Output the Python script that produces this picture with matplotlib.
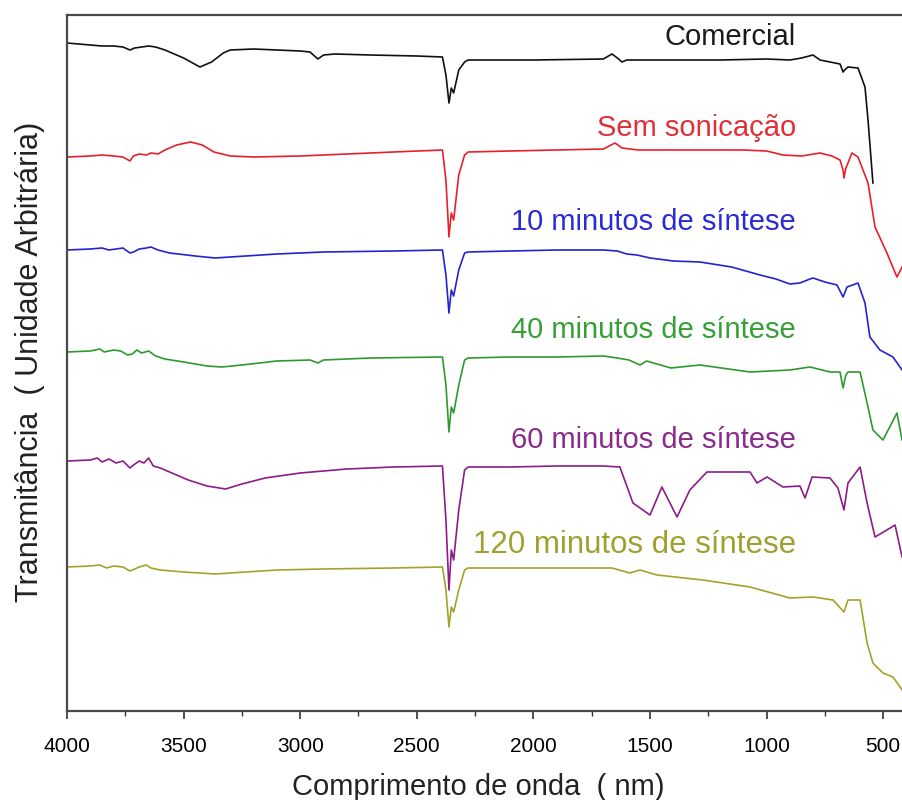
import matplotlib
matplotlib.use('Agg')
import matplotlib.pyplot as plt
import numpy as np
from matplotlib.ticker import MultipleLocator

plt.rcParams['font.family'] = ['Liberation Sans', 'DejaVu Sans']

# wavenumber points (cm-1) and transmittance (arbitrary units)
wn_comercial = [4000, 3900, 3850, 3800, 3760, 3730, 3710, 3680, 3650, 3620, 3580, 3500, 3430, 3380, 3330, 3300,
                3200, 3000, 2958, 2924, 2900, 2851, 2700, 2500, 2390, 2375, 2362, 2352, 2342, 2320, 2295, 2280,
                2200, 2000, 1700, 1663, 1640, 1620, 1600, 1400, 1200, 1000, 900, 850, 801, 771, 728, 685,
                672, 665, 651, 608, 578, 565, 544]
t_comercial = [668, 666, 665, 665, 664, 661, 663, 664, 665, 664, 661, 653, 644, 649, 658, 661,
               662, 660, 659, 652, 656, 657, 656, 655, 654, 636, 608, 623, 618, 641, 649, 651,
               651, 651, 652, 657, 653, 649, 651, 651, 651, 652, 651, 653, 656, 651, 649, 647,
               639, 641, 644, 643, 624, 591, 528]

wn_sem = [4000, 3900, 3850, 3800, 3760, 3730, 3715, 3690, 3660, 3640, 3610, 3580, 3530, 3470, 3420, 3370,
          3300, 3200, 3000, 2800, 2600, 2390, 2375, 2362, 2352, 2342, 2320, 2295, 2280, 2100, 1900, 1700,
          1650, 1620, 1550, 1300, 1100, 1000, 930, 850, 771, 720, 685, 672, 668, 660, 651, 634,
          608, 565, 535, 484, 441, 419]
t_sem = [554, 555, 556, 555, 554, 550, 555, 557, 556, 558, 557, 561, 566, 569, 566, 559,
         555, 554, 555, 557, 559, 561, 531, 474, 498, 491, 536, 556, 559, 560, 561, 562,
         568, 563, 561, 561, 561, 560, 556, 555, 558, 555, 551, 541, 533, 543, 548, 558,
         554, 528, 484, 458, 434, 444]

wn_10 = [4000, 3900, 3850, 3820, 3790, 3760, 3730, 3715, 3690, 3660, 3640, 3610, 3560, 3450, 3365, 3300,
         3100, 2900, 2600, 2390, 2375, 2362, 2352, 2342, 2320, 2295, 2280, 2100, 1900, 1700, 1640, 1600,
         1556, 1500, 1400, 1286, 1150, 1028, 960, 900, 857, 814, 801, 750, 698, 672, 660, 655,
         608, 578, 557, 514, 458, 419]
t_10 = [461, 462, 463, 461, 462, 463, 458, 459, 462, 463, 464, 461, 458, 455, 453, 454,
        457, 459, 460, 461, 436, 398, 421, 415, 441, 458, 459, 460, 461, 461, 460, 457,
        456, 453, 450, 449, 444, 436, 432, 427, 428, 432, 433, 429, 426, 414, 421, 424,
        428, 408, 374, 361, 354, 341]

wn_40 = [4000, 3900, 3860, 3840, 3800, 3770, 3740, 3720, 3700, 3680, 3650, 3620, 3580, 3500, 3400, 3335,
         3250, 3100, 2958, 2924, 2900, 2700, 2390, 2375, 2362, 2352, 2342, 2320, 2295, 2280, 2100, 1900,
         1700, 1640, 1590, 1543, 1515, 1410, 1286, 1071, 900, 814, 728, 685, 672, 660, 651, 599,
         569, 544, 501, 441, 419]
t_40 = [359, 360, 362, 359, 361, 360, 356, 357, 361, 358, 360, 355, 352, 349, 345, 344,
        346, 350, 351, 348, 351, 353, 354, 326, 279, 304, 298, 326, 351, 353, 354, 354,
        355, 353, 351, 346, 350, 343, 346, 339, 341, 344, 339, 339, 323, 336, 339, 339,
        308, 281, 271, 298, 271]

wn_60 = [4000, 3900, 3870, 3850, 3820, 3790, 3760, 3730, 3715, 3690, 3670, 3650, 3630, 3600, 3560, 3480,
         3400, 3320, 3250, 3150, 3000, 2800, 2600, 2390, 2375, 2362, 2352, 2342, 2320, 2295, 2280, 2100,
         1900, 1700, 1629, 1573, 1500, 1449, 1384, 1329, 1256, 1071, 1041, 998, 930, 857, 835, 805,
         728, 694, 668, 651, 599, 569, 535, 484, 449, 419]
t_60 = [250, 251, 253, 249, 252, 248, 250, 243, 246, 250, 248, 253, 245, 243, 239, 231,
        225, 222, 227, 233, 238, 242, 244, 245, 191, 121, 161, 151, 201, 241, 244, 244,
        245, 245, 244, 208, 196, 224, 194, 221, 239, 239, 228, 234, 224, 225, 213, 234,
        233, 223, 201, 228, 244, 208, 174, 181, 186, 154]

wn_120 = [4000, 3900, 3860, 3830, 3800, 3760, 3730, 3710, 3690, 3660, 3640, 3600, 3500, 3365, 3300, 3100,
          2900, 2600, 2390, 2375, 2362, 2352, 2342, 2320, 2295, 2280, 2100, 1900, 1663, 1586, 1543, 1470,
          1273, 1071, 900, 801, 715, 668, 651, 599, 569, 544, 501, 458, 419]
t_120 = [144, 145, 146, 143, 145, 144, 140, 142, 144, 146, 143, 141, 139, 137, 138, 141,
         142, 143, 144, 121, 84, 104, 99, 121, 141, 143, 143, 143, 143, 138, 141, 136,
         131, 124, 113, 114, 111, 99, 111, 111, 68, 48, 38, 34, 21]

labels = ['Comercial', 'Sem sonicação', '10 minutos de síntese', '40 minutos de síntese',
          '60 minutos de síntese', '120 minutos de síntese']

series = [(wn_comercial, t_comercial), (wn_sem, t_sem), (wn_10, t_10),
          (wn_40, t_40), (wn_60, t_60), (wn_120, t_120)]
line_colors = ['#111111', '#e8202a', '#2323d0', '#2e9a2e', '#8c1c8c', '#a3a32a']
text_colors = ['#1a1a1a', '#e03038', '#2b2bd6', '#36a036', '#8a2a8a', '#a0a030']
label_y = [674, 583, 489, 381, 271, 166]
label_size = [21, 21, 21, 21, 21, 22.5]

fig = plt.figure(figsize=(9.02, 8), dpi=100)
ax = fig.add_axes([67/902, 89/800, 839.5/902, 696/800])

for (wn, t), col in zip(series, line_colors):
    ax.plot(wn, t, color=col, lw=1.2)

for lab, col, y, fs in zip(labels, text_colors, label_y, label_size):
    ax.text(873, y, lab, color=col, fontsize=fs, ha='right', va='center')

ax.set_xlim(4000, 400)
ax.set_ylim(0, 696)
ax.set_yticks([])
ax.xaxis.set_major_locator(MultipleLocator(500))
ax.xaxis.set_minor_locator(MultipleLocator(250))
ax.tick_params(axis='x', which='major', direction='out', length=6, width=1.2, labelsize=15, pad=13, color='#333333')
ax.tick_params(axis='x', which='minor', direction='out', length=3.5, width=1.0, color='#333333')
for s in ['left', 'top', 'bottom']:
    ax.spines[s].set_linewidth(1.6)
    ax.spines[s].set_color('#4a4a4a')
ax.spines['right'].set_visible(False)

fig.text(30/902, 1 - 362/800, 'Transmitância  ( Unidade Arbitrária)', rotation=90,
         ha='center', va='center', fontsize=22, color='#222222')
fig.text(478/902, 1 - 787/800, 'Comprimento de onda  ( nm)', ha='center', va='center',
         fontsize=21, color='#222222')

plt.savefig('out.png', dpi=100)
